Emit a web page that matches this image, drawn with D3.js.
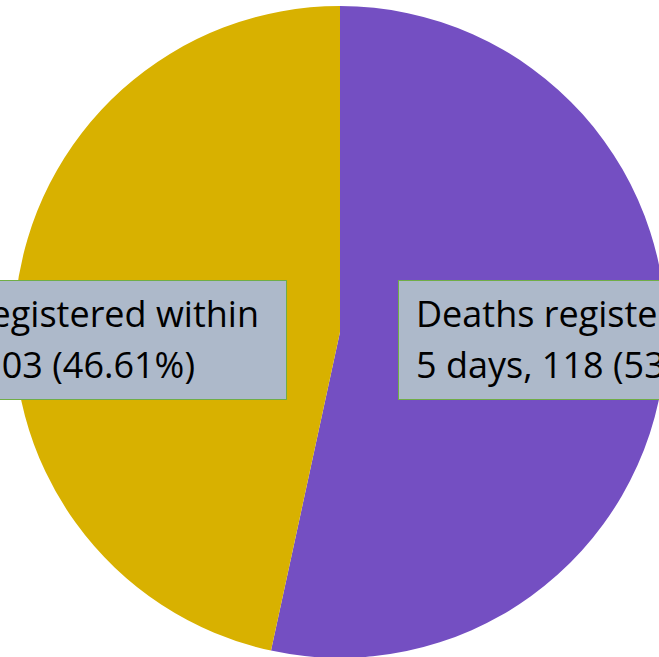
<!DOCTYPE html>
<html><head><meta charset="utf-8">
<script src="https://cdn.jsdelivr.net/npm/d3@7"></script>
<style>html,body{margin:0;padding:0;background:#fff;overflow:hidden}</style>
</head><body>
<svg id="chart" width="659" height="657"></svg>
<script>
const categories = ["Deaths registered after 5 days", "Deaths registered within 5 days"];
const counts = [118, 103];
const percents = ["53.39%", "46.61%"];
const labelLines = [
  ["Deaths registered after", "5 days, 118 (53.39%)"],
  ["Deaths registered within", "5 days, 103 (46.61%)"]
];
const colors = ["#744fc2", "#d8b100"];

const svg = d3.select("#chart");
const cx = 340, cy = 332, r = 326;
const g = svg.append("g").attr("transform", `translate(${cx},${cy})`);
const pie = d3.pie().sort(null).value(d => d)(counts);
const arc = d3.arc().innerRadius(0).outerRadius(r);
g.selectAll("path").data(pie).enter().append("path")
  .attr("d", arc).attr("fill", (d, i) => colors[i]);

const font = "'Open Sans', Lato, sans-serif";
const fs = 36;
const boxes = [
  {x: 398, y: 280, w: 300, h: 119, anchor: "start", tx: [416, 416]},
  {x: -40, y: 280, w: 326, h: 119, anchor: "end", tx: [259, 195]}
];
boxes.forEach((b, i) => {
  svg.append("rect").attr("x", b.x + 0.5).attr("y", b.y + 0.5)
    .attr("width", b.w).attr("height", b.h)
    .attr("fill", "#adb9ca").attr("stroke", "#70ad47").attr("stroke-width", 1);
  labelLines[i].forEach((t, j) => {
    svg.append("text").attr("x", b.tx[j]).attr("y", 327 + j * 51)
      .attr("text-anchor", b.anchor)
      .attr("font-family", font).attr("font-size", fs).attr("fill", "#000")
      .text(t);
  });
});
</script>
</body></html>
